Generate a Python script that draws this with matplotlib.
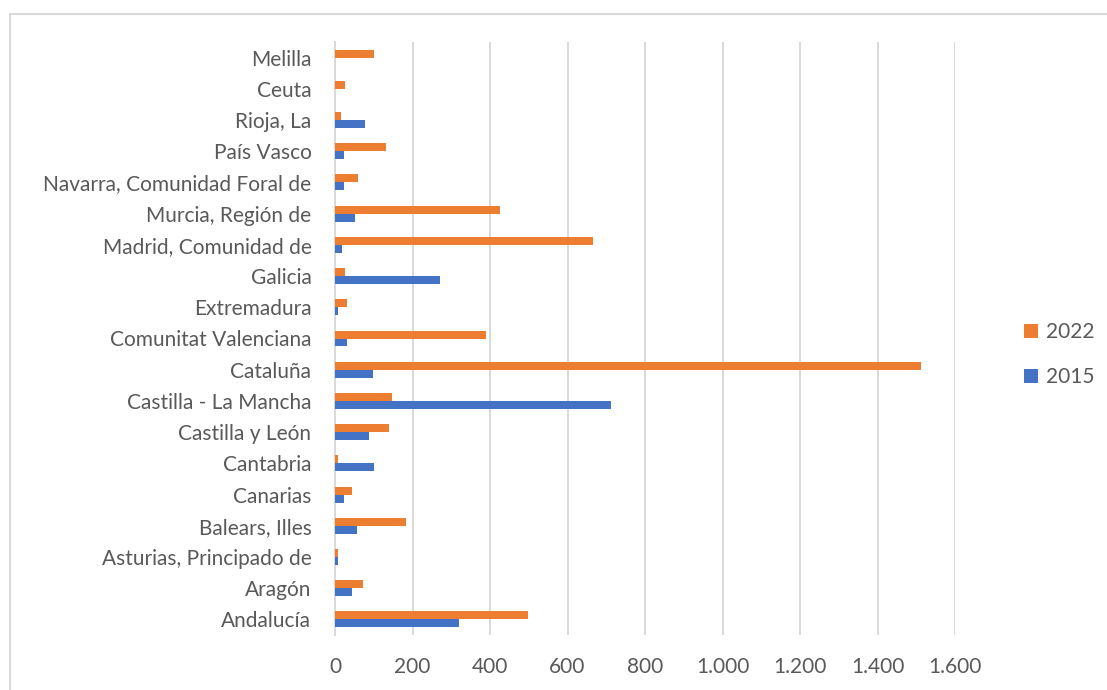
import matplotlib
matplotlib.use("Agg")
import matplotlib.pyplot as plt
from matplotlib.patches import Rectangle
from matplotlib.ticker import FuncFormatter, MultipleLocator
import numpy as np

plt.rcParams['font.family'] = ['Lato', 'DejaVu Sans']

regions = [
    "Andalucía", "Aragón", "Asturias, Principado de", "Balears, Illes",
    "Canarias", "Cantabria", "Castilla y León", "Castilla - La Mancha",
    "Cataluña", "Comunitat Valenciana", "Extremadura", "Galicia",
    "Madrid, Comunidad de", "Murcia, Región de", "Navarra, Comunidad Foral de",
    "País Vasco", "Rioja, La", "Ceuta", "Melilla",
]
values_2015 = [320, 43, 9, 56, 22, 101, 89, 713, 97, 30, 9, 270, 18, 52, 23, 23, 77, 0, 0]
values_2022 = [499, 72, 9, 184, 43, 9, 139, 147, 1512, 390, 30, 27, 667, 425, 60, 131, 15, 27, 101]

ORANGE = "#ED7D31"
BLUE = "#4472C4"
GRID = "#D9D9D9"
TEXT = "#595959"

W, H = 1107, 690
fig = plt.figure(figsize=(W / 100, H / 100), dpi=100)
ax = fig.add_axes([335 / W, 1 - 635 / H, (955 - 335) / W, (635 - 42) / H])

y = np.arange(len(regions))
h = 0.256
ax.barh(y + h / 2, values_2022, height=h, color=ORANGE, label="2022", zorder=3)
ax.barh(y - h / 2, values_2015, height=h, color=BLUE, label="2015", zorder=3)

ax.set_xlim(0, 1600)
ax.set_ylim(-0.5, len(regions) - 0.5)
ax.xaxis.set_major_locator(MultipleLocator(200))
ax.xaxis.set_major_formatter(FuncFormatter(lambda v, _: f"{v:,.0f}".replace(",", ".")))
ax.grid(axis="x", color=GRID, linewidth=1.4, zorder=0)
ax.set_axisbelow(True)

for side in ("top", "right", "bottom"):
    ax.spines[side].set_visible(False)
ax.spines["left"].set_color(GRID)
ax.spines["left"].set_linewidth(1.4)

ax.set_yticks(y)
ax.set_yticklabels(regions)
ax.tick_params(axis="y", length=0, pad=17, labelsize=15, labelcolor=TEXT)
ax.tick_params(axis="x", length=0, pad=16, labelsize=15, labelcolor=TEXT)

handles, labels = ax.get_legend_handles_labels()
leg = fig.legend(handles, labels, loc="center left",
                 bbox_to_anchor=(1005 / W, 1 - 355 / H), frameon=False,
                 fontsize=15, labelcolor=TEXT, handlelength=0.7, handleheight=0.7,
                 handletextpad=0.35, labelspacing=1.2)

# chart area border
fig.patches.append(Rectangle((10 / W, -0.05), 1.1, 1 - 14 / H + 0.05,
                             transform=fig.transFigure, fill=False,
                             edgecolor=GRID, linewidth=1.5))

fig.savefig("out.png", dpi=100)
